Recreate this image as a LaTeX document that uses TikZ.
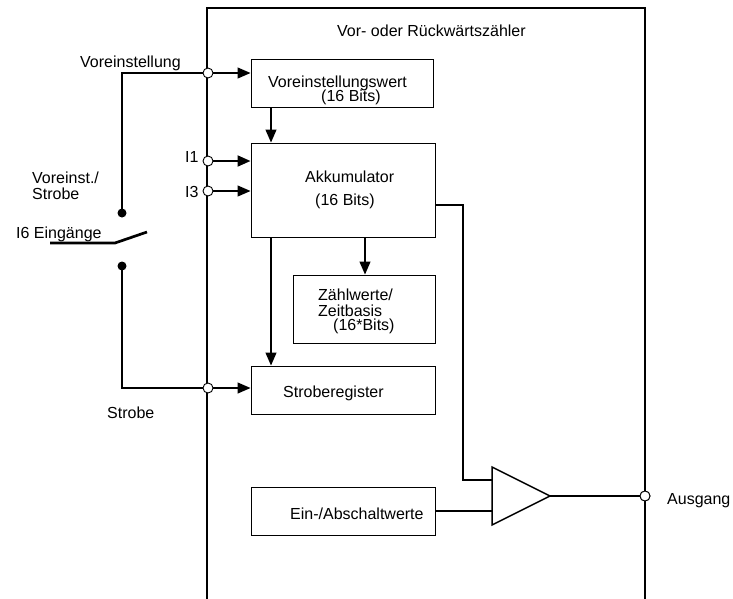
\documentclass[tikz,border=0pt]{standalone}
\usepackage{fontspec}
\setmainfont{Liberation Sans}
\usetikzlibrary{arrows.meta,calc}
\begin{document}
\begin{tikzpicture}[x=1pt,y=-1pt,
  every node/.style={font=\fontsize{16}{18}\selectfont},
  lbl/.style={inner sep=0pt,anchor=base west},
  blk/.style={draw,line width=1pt,inner sep=0pt,minimum height=48pt,minimum width=184pt},
  frame/.style={line width=1.8pt},
  wire/.style={line width=2.7pt},
  sig/.style={line width=1.3pt},
  arr/.style={line width=1.3pt,-{Triangle[length=13pt,width=11pt]}},
  pin/.style={circle,draw,fill=white,line width=0.9pt,minimum size=10pt,inner sep=0pt},
  dot/.style={circle,fill=black,minimum size=9pt,inner sep=0pt}]
\useasboundingbox (0,0) rectangle (733,598);

% frame of the counter
\coordinate (fBL) at (207,600);
\coordinate (fTL) at (207,8);
\coordinate (fTR) at (645,8);
\coordinate (fBR) at (645,600);
\draw[frame] (fBL) -- (fTL) -- (fTR) -- (fBR);
\node[lbl] (title) at (337,36) {Vor- oder Rückwärtszähler};

% function blocks
\node[blk,minimum width=182pt] (vw) at (342,83) {};
\node[lbl] (vwA) at (268,87) {Voreinstellungswert};
\node[lbl] (vwB) at (321,101) {(16 Bits)};

\node[blk,minimum height=94pt] (akk) at (343,190) {};
\node[lbl] (akkA) at (305,182) {Akkumulator};
\node[lbl] (akkB) at (315,205) {(16 Bits)};

\node[blk,minimum width=142pt,minimum height=68pt] (zw) at (364,309) {};
\node[lbl] (zwA) at (318,300) {Zählwerte/};
\node[lbl] (zwB) at (318,316) {Zeitbasis};
\node[lbl] (zwC) at (333,330) {(16*Bits)};

\node[blk] (sr) at (343,390) {};
\node[lbl] (srA) at (283,397) {Stroberegister};

\node[blk] (ea) at (343,511) {};
\node[lbl] (eaA) at (290,519) {Ein-/Abschaltwerte};

% comparator
\coordinate (ampT) at (492,467);
\coordinate (ampB) at (492,525);
\coordinate (ampO) at (550,496);
\coordinate (ampI1) at (492,480);
\coordinate (ampI2) at (492,511);
\draw[line width=1.5pt,line join=miter] (ampT) -- (ampO) -- (ampB) -- cycle;

% inputs on the left edge
\node[pin] (pV) at (208,73) {};
\node[pin] (pI1) at (208,161) {};
\node[pin] (pI3) at (208,191) {};
\node[pin] (pS) at (208,388) {};
\node[pin] (pA) at (645,496) {};

\node[lbl] (lV) at (80,67) {Voreinstellung};
\node[lbl] (lI1) at (185,162) {I1};
\node[lbl] (lI3) at (185,197) {I3};
\node[lbl,align=left] (lVS) at (32,183) {Voreinst./};
\node[lbl] (lVS2) at (32,199) {Strobe};
\node[lbl] (lI6) at (16,238) {I6 Eingänge};
\node[lbl] (lS) at (107,418) {Strobe};
\node[lbl] (lA) at (667,504) {Ausgang};

% selector switch
\node[dot] (dT) at (122,213) {};
\node[dot] (dB) at (122,266) {};
\coordinate (swL) at (50,243);
\coordinate (swP) at (115,243);
\coordinate (swE) at (147,232);
\draw[wire] (swL) -- (swP) -- (swE);
\draw[wire] (dT.center) |- (pV);
\draw[wire] (dB.center) |- (pS);

% signal arrows into the blocks
\draw[arr] (pV) -- (pV -| vw.west);
\draw[arr,line width=2pt] (pI1) -- (pI1 -| akk.west);
\draw[arr] (pI3) -- (pI3 -| akk.west);
\draw[arr] (pS) -- (pS -| sr.west);

\coordinate (cx1) at (271,0);
\coordinate (cx2) at (365,0);
\draw[arr] (vw.south -| cx1) -- (akk.north -| cx1);
\draw[arr] (akk.south -| cx1) -- (sr.north -| cx1);
\draw[arr] (akk.south -| cx2) -- (zw.north -| cx2);

% accumulator and thresholds to the comparator
\coordinate (ao) at (435,205);
\coordinate (ac) at (463,205);
\draw[line width=2pt] (ao) -- (ac) |- (ampI1);
\draw[line width=2pt] (ea.east |- ampI2) -- (ampI2);
\draw[sig] (ampO) -- (pA);
\node[pin] at (pA) {};
\end{tikzpicture}
\end{document}
